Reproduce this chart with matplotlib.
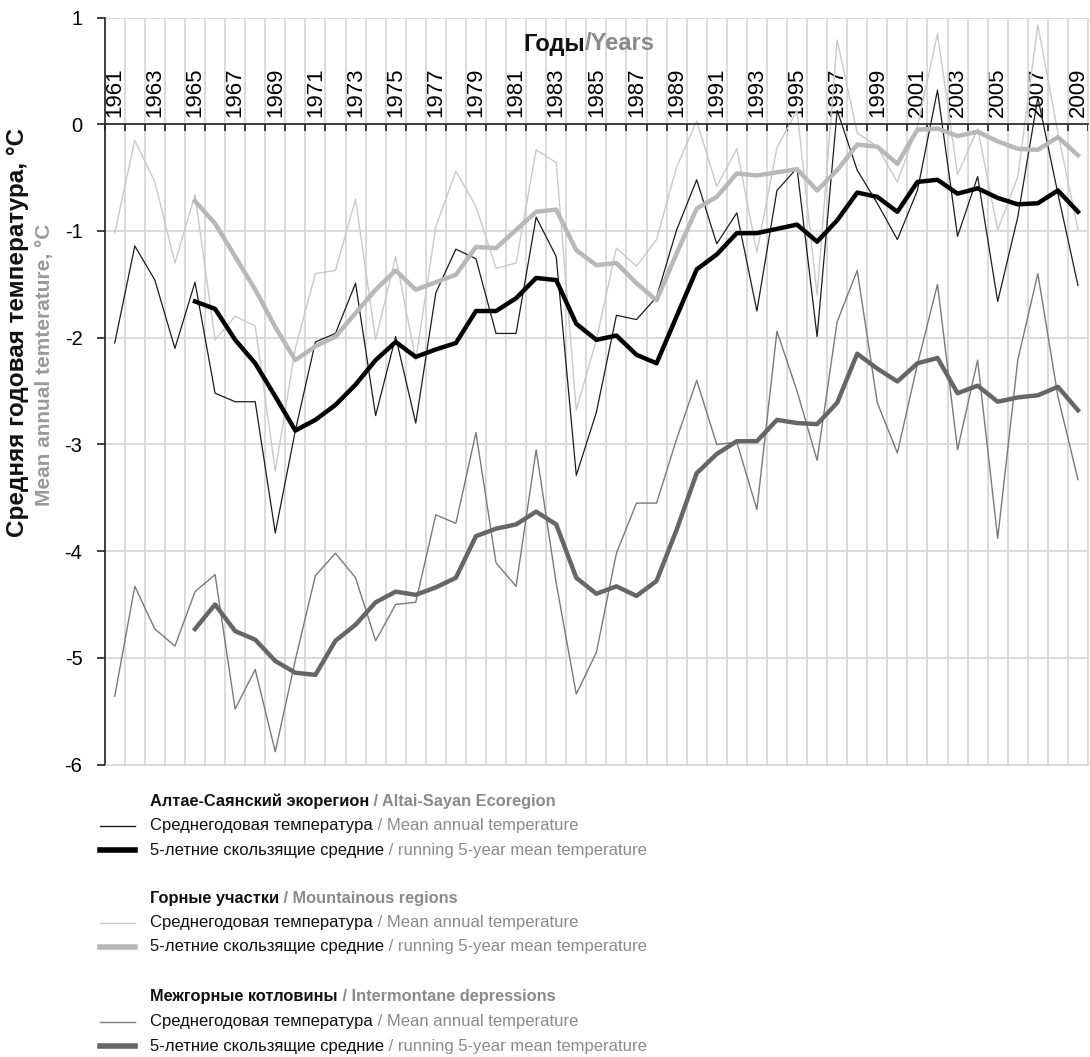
import matplotlib
matplotlib.use("Agg")
import matplotlib.pyplot as plt
from matplotlib.lines import Line2D

plt.rcParams['font.family'] = ['Liberation Sans', 'DejaVu Sans']
plt.rcParams['axes.unicode_minus'] = False

years = list(range(1961, 2010))
years5 = list(range(1965, 2010))

# Altai-Sayan ecoregion
altai = [-2.05, -1.14, -1.46, -2.10, -1.48, -2.52, -2.60, -2.60, -3.83, -2.87,
         -2.04, -1.96, -1.49, -2.73, -1.99, -2.80, -1.58, -1.17, -1.26, -1.96,
         -1.96, -0.87, -1.24, -3.29, -2.70, -1.79, -1.83, -1.62, -0.99, -0.52,
         -1.12, -0.83, -1.75, -0.62, -0.41, -1.99, 0.13, -0.43, -0.74, -1.08,
         -0.62, 0.32, -1.05, -0.49, -1.66, -0.87, 0.25, -0.65, -1.51]
altai5 = [-1.66, -1.73, -2.02, -2.24, -2.55, -2.87, -2.77, -2.63, -2.44, -2.21,
          -2.04, -2.18, -2.11, -2.05, -1.75, -1.75, -1.63, -1.44, -1.46, -1.87,
          -2.02, -1.98, -2.16, -2.24, -1.80, -1.36, -1.22, -1.02, -1.02, -0.98,
          -0.94, -1.10, -0.90, -0.64, -0.68, -0.82, -0.54, -0.52, -0.65, -0.60,
          -0.69, -0.75, -0.74, -0.62, -0.82]

# mountainous regions
mount = [-1.02, -0.15, -0.54, -1.30, -0.66, -2.02, -1.80, -1.89, -3.25, -2.10,
         -1.40, -1.37, -0.70, -2.02, -1.24, -2.21, -0.96, -0.44, -0.77, -1.35,
         -1.30, -0.24, -0.36, -2.68, -2.02, -1.16, -1.33, -1.08, -0.40, 0.03,
         -0.58, -0.23, -1.20, -0.22, 0.13, -1.60, 0.79, -0.08, -0.21, -0.54,
         -0.02, 0.85, -0.47, -0.04, -0.99, -0.49, 0.93, -0.08, -0.99]
mount5 = [-0.72, -0.93, -1.24, -1.55, -1.90, -2.21, -2.08, -1.99, -1.77, -1.55,
          -1.37, -1.55, -1.48, -1.41, -1.15, -1.16, -0.99, -0.82, -0.80, -1.18,
          -1.32, -1.30, -1.49, -1.65, -1.21, -0.79, -0.68, -0.46, -0.48, -0.45,
          -0.42, -0.62, -0.43, -0.19, -0.21, -0.37, -0.05, -0.04, -0.11, -0.07,
          -0.16, -0.23, -0.24, -0.12, -0.29]

# intermontane depressions
inter = [-5.36, -4.33, -4.73, -4.89, -4.38, -4.22, -5.48, -5.11, -5.88, -5.02,
         -4.23, -4.02, -4.25, -4.84, -4.50, -4.48, -3.66, -3.74, -2.89, -4.11,
         -4.33, -3.05, -4.30, -5.34, -4.95, -4.02, -3.55, -3.55, -2.95, -2.40,
         -3.00, -2.98, -3.61, -1.94, -2.50, -3.15, -1.85, -1.37, -2.61, -3.08,
         -2.25, -1.50, -3.05, -2.21, -3.88, -2.21, -1.40, -2.55, -3.33]
inter5 = [-4.73, -4.50, -4.75, -4.83, -5.03, -5.14, -5.16, -4.84, -4.69, -4.48,
          -4.38, -4.41, -4.34, -4.25, -3.86, -3.79, -3.75, -3.63, -3.75, -4.25,
          -4.40, -4.33, -4.42, -4.28, -3.80, -3.27, -3.09, -2.97, -2.97, -2.77,
          -2.80, -2.81, -2.61, -2.15, -2.29, -2.41, -2.24, -2.19, -2.52, -2.45,
          -2.60, -2.56, -2.54, -2.46, -2.68]

yticks = [1, 0, -1, -2, -3, -4, -5, -6]

c_altai, c_altai5 = "#1c1c1c", "#000000"
c_mount, c_mount5 = "#c9c9c9", "#b8b8b8"
c_inter, c_inter5 = "#7a7a7a", "#666666"
gray_txt = "#8a8a8a"

W, H = 1090, 1057
fig = plt.figure(figsize=(W / 100, H / 100), dpi=100)
ax = fig.add_axes([104.7 / W, 1 - 764.5 / H, (1088 - 104.7) / W, (764.5 - 17.6) / H])

ax.plot(years, mount, color=c_mount, lw=1.0)
ax.plot(years, inter, color=c_inter, lw=1.0)
ax.plot(years, altai, color=c_altai, lw=0.9)
ax.plot(years5, mount5, color=c_mount5, lw=3.2)
ax.plot(years5, inter5, color=c_inter5, lw=3.2)
ax.plot(years5, altai5, color=c_altai5, lw=3.2)

ax.set_xlim(1960.5, 2009.5)
ax.set_ylim(-6, 1)
ax.set_yticks(yticks, [str(v) for v in yticks])

# year axis drawn along y = 0
ax.spines['top'].set_position(('data', 0))
ax.spines['top'].set_color("#222222")
ax.spines['top'].set_linewidth(1.2)
ax.spines['left'].set_color("#222222")
ax.spines['left'].set_linewidth(1.2)
ax.spines['bottom'].set_color("#dddddd")
ax.spines['right'].set_color("#dddddd")
ax.xaxis.set_ticks_position('top')
ax.set_xticks(years[::2], [str(y) for y in years[::2]])
ax.set_xticks([y - 0.5 for y in years] + [2009.5], minor=True)
ax.tick_params(axis='x', which='major', length=0, pad=5, labelrotation=90,
               labelsize=16)
ax.tick_params(axis='x', which='minor', length=5, width=1.2, direction='in',
               color="#222222")
ax.tick_params(axis='y', length=6, width=1.2, color="#222222", labelsize=14.5, pad=10)

ax.xaxis.grid(True, which='minor', color="#d8d8d8", lw=1.3)
ax.xaxis.grid(False, which='major')
ax.yaxis.grid(True, color="#d8d8d8", lw=1.3)
ax.set_axisbelow(True)


def runs(x, y, parts, size, weight='normal'):
    t = fig.text(x / W, 1 - y / H, parts[0][0], color=parts[0][1], fontsize=size,
                 fontweight=weight, va='center', ha='left')
    for s, c in parts[1:]:
        t = ax.annotate(s, xy=(1, 0), xycoords=t, va='bottom', ha='left',
                        color=c, fontsize=size, fontweight=weight)
    return t


runs(523, 44, [("Годы", "#111111"), ("/Years", gray_txt)], 17, 'bold')

fig.text(18 / W, 1 - 128 / H, "Средняя годовая температура, °C", rotation=90,
         ha='center', va='top', fontsize=17.5, fontweight='bold', color="#111111")
fig.text(45 / W, 1 - 224 / H, "Mean annual temterature, °C", rotation=90,
         ha='center', va='top', fontsize=15, fontweight='bold', color="#9a9a9a")

groups = [
    ("Алтае-Саянский экорегион", " / Altai-Sayan Ecoregion", c_altai, c_altai5, 801),
    ("Горные участки", " / Mountainous regions", c_mount, c_mount5, 898),
    ("Межгорные котловины", " / Intermontane depressions", c_inter, c_inter5, 997),
]
for ru, en, c1, c2, y0 in groups:
    runs(150, y0, [(ru, "#111111"), (en, gray_txt)], 11.8, 'bold')
    runs(150, y0 + 24.5, [("Среднегодовая температура", "#111111"),
                          (" / Mean annual temperature", gray_txt)], 12)
    runs(150, y0 + 49, [("5-летние скользящие средние", "#111111"),
                        (" / running 5-year mean temperature", gray_txt)], 12)
    fig.add_artist(Line2D([100 / W, 135 / W], [1 - (y0 + 24.5) / H] * 2,
                          color=c1, lw=1.0))
    fig.add_artist(Line2D([100 / W, 135 / W], [1 - (y0 + 49) / H] * 2,
                          color=c2, lw=4.0))

fig.savefig("out.png", dpi=100)
